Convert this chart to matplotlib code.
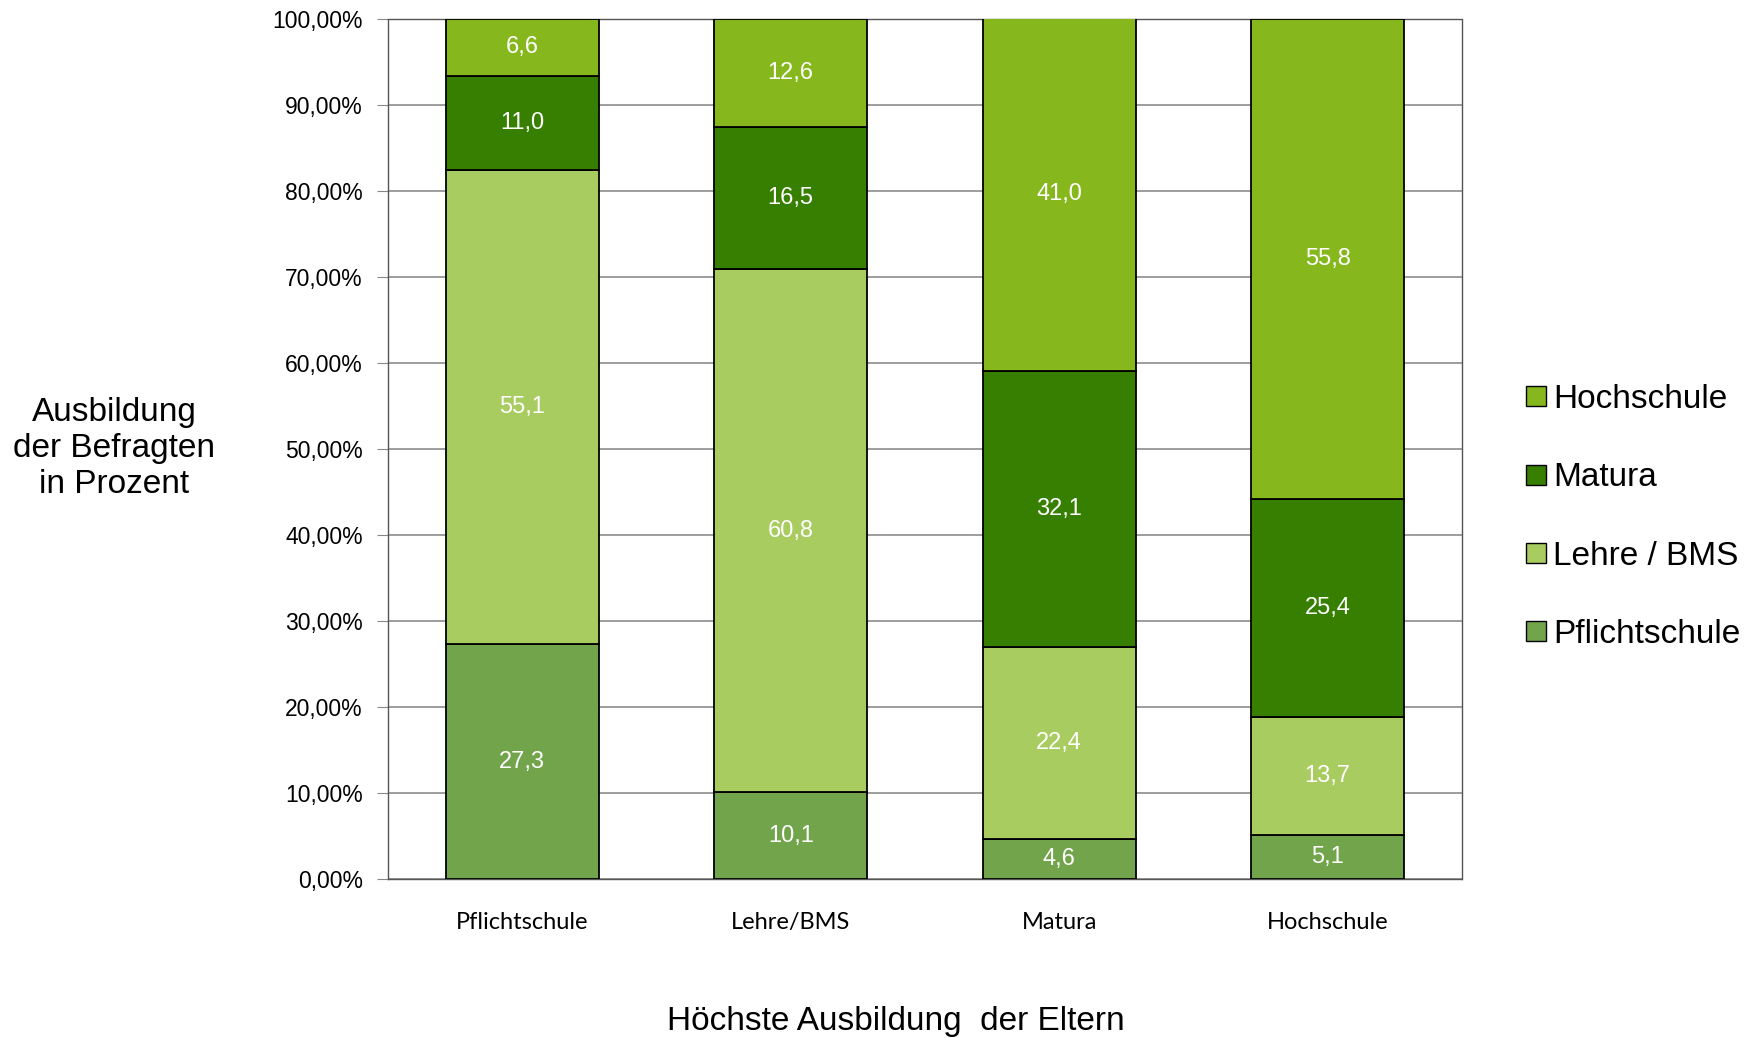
import numpy as np
import matplotlib.pyplot as plt
from matplotlib.ticker import FuncFormatter
from matplotlib.lines import Line2D

# Höchste Ausbildung der Eltern (x-Kategorien)
eltern = ["Pflichtschule", "Lehre/BMS", "Matura", "Hochschule"]

# Ausbildung der Befragten in Prozent, je Elternkategorie
pflichtschule = [27.3, 10.1, 4.6, 5.1]
lehre_bms = [55.1, 60.8, 22.4, 13.7]
matura = [11.0, 16.5, 32.1, 25.4]
hochschule = [6.6, 12.6, 41.0, 55.8]

serien = [
    ("Pflichtschule", pflichtschule, "#71A44B"),
    ("Lehre / BMS", lehre_bms, "#A8CC60"),
    ("Matura", matura, "#367F00"),
    ("Hochschule", hochschule, "#86B81E"),
]

fig = plt.figure(figsize=(17.57, 10.38), dpi=100)
ax = fig.add_axes([0.2208, 0.1532, 0.6113, 0.8285])

x = np.arange(len(eltern))
bottom = np.zeros(len(eltern))
handles = []
for name, vals, col in serien:
    vals = np.array(vals)
    ax.bar(x, vals, 0.57, bottom=bottom, color=col, edgecolor="black",
           linewidth=1.3, zorder=3)
    for xi, b, v in zip(x, bottom, vals):
        ax.text(xi, b + v / 2, f"{v:.1f}".replace(".", ","), ha="center",
                va="center", color="white", fontsize=17,
                family="Liberation Sans", zorder=4)
    bottom += vals
    handles.append(Line2D([], [], marker="s", linestyle="none", markersize=14,
                          markerfacecolor=col, markeredgecolor="black",
                          markeredgewidth=1.0, label=name))

ax.set_xlim(-0.5, len(eltern) - 0.5)
ax.set_ylim(0, 100)
ax.set_yticks(np.arange(0, 101, 10))
ax.yaxis.set_major_formatter(FuncFormatter(lambda v, p: f"{v:.2f}%".replace(".", ",")))
ax.set_xticks(x)
ax.set_xticklabels(eltern, family="Lato", fontsize=17)
ax.tick_params(axis="x", length=0, pad=24)
ax.tick_params(axis="y", length=8, color="#888888", pad=10, labelsize=16.5)
for lbl in ax.get_yticklabels():
    lbl.set_family("Liberation Sans")

ax.grid(axis="y", color="#8c8c8c", linewidth=1.2, zorder=0)
for sp in ax.spines.values():
    sp.set_linestyle((0, (1, 1)))
    sp.set_color("#555555")
    sp.set_linewidth(1.0)

fig.text(0.065, 0.568, "Ausbildung\nder Befragten\nin Prozent", ha="center",
         va="center", fontsize=24, family="Liberation Sans", linespacing=1.2)
fig.text(0.51, 0.016, "Höchste Ausbildung  der Eltern", ha="center",
         va="center", fontsize=24, family="Liberation Sans")

fig.legend(handles=handles[::-1], loc="center left",
           bbox_to_anchor=(0.862, 0.502), frameon=False,
           prop={"family": "Liberation Sans", "size": 24},
           handlelength=0.5, handletextpad=0.25, labelspacing=1.42,
           borderaxespad=0)

fig.savefig("out.png", dpi=100)
